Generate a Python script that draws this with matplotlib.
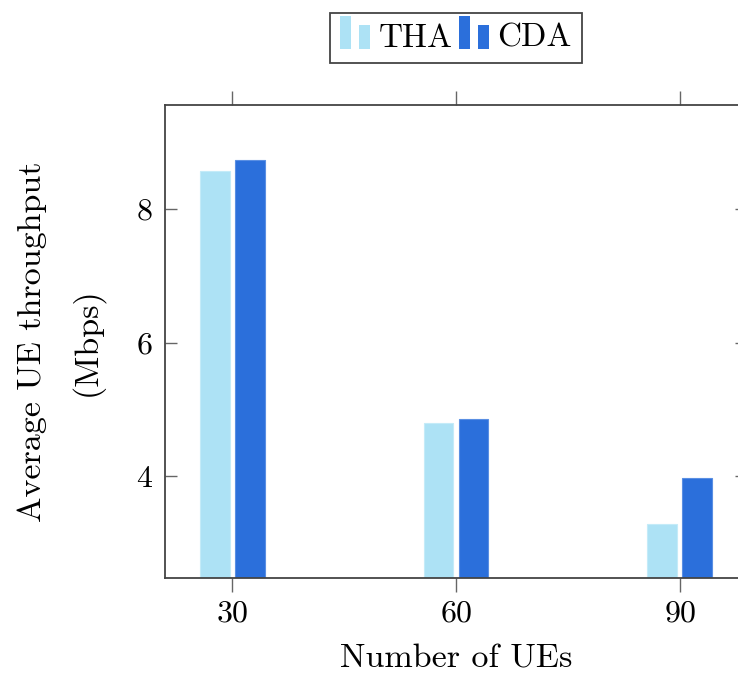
import numpy as np
import matplotlib
matplotlib.use("Agg")
import matplotlib.pyplot as plt
from matplotlib.patches import Rectangle
from matplotlib.legend_handler import HandlerBase

# data
ues = [30, 60, 90]
tha = [8.57, 4.79, 3.28]
cda = [8.73, 4.85, 3.97]
series_names = ["THA", "CDA"]
light = "#ade2f5"
dark = "#2b6fdb"

plt.rcParams['font.family'] = 'serif'
plt.rcParams['font.serif'] = ['cmr10']
plt.rcParams['mathtext.fontset'] = 'cm'
plt.rcParams['axes.formatter.use_mathtext'] = True


class TwoBarHandler(HandlerBase):
    # pgfplots-style ybar legend icon: tall bar + short bar
    def create_artists(self, legend, orig_handle, xdescent, ydescent,
                       width, height, fontsize, trans):
        c = orig_handle.get_facecolor()
        w = width * 0.33
        r1 = Rectangle((-xdescent, -ydescent - 2), w, height * 1.3 + 2,
                       facecolor=c, edgecolor='none', transform=trans)
        r2 = Rectangle((-xdescent + w * 1.75, -ydescent - 2), w, height * 0.95 + 2,
                       facecolor=c, edgecolor='none', transform=trans)
        return [r1, r2]


fig = plt.figure(figsize=(7.38, 6.77), dpi=100)
ax = fig.add_axes([165 / 738, 1 - 578 / 677, (747 - 165) / 738, (578 - 105) / 677])

x = np.array(ues, dtype=float)
bw = 4.0
off = 2.35
b1 = ax.bar(x - off, tha, width=bw, color=light, edgecolor="#c4ebf8", linewidth=0.8)
b2 = ax.bar(x + off, cda, width=bw, color=dark, edgecolor="#5a8fe3", linewidth=0.8)

ax.set_xlim(21, 99)
ax.set_ylim(2.47, 9.56)
ax.set_xticks(ues)
ax.set_yticks([4, 6, 8])

for s in ax.spines.values():
    s.set_color("#444444")
    s.set_linewidth(1.3)

ax.tick_params(axis='x', direction='out', length=10, width=1, color="#666666",
               top=True, labelsize=23, pad=6)
ax.tick_params(axis='y', direction='in', length=8.6, width=1, color="#666666",
               right=True, labelsize=23, pad=9)

ax.set_xlabel("Number of UEs", fontsize=24.5, labelpad=12)
ax.set_ylabel("Average UE throughput\n(Mbps)", fontsize=24.5, labelpad=23,
              linespacing=1.9)

leg = fig.legend([b1[0], b2[0]], series_names, loc='center',
                 bbox_to_anchor=(456 / 738, 1 - 38 / 677), ncol=2,
                 handler_map={b1[0]: TwoBarHandler(), b2[0]: TwoBarHandler()},
                 fontsize=24, frameon=True, fancybox=False, framealpha=1,
                 edgecolor="#444444", handlelength=1.0, handletextpad=0.15,
                 columnspacing=0.2, borderpad=0.3, borderaxespad=0)
leg.get_frame().set_linewidth(1.3)

fig.savefig("out.png", dpi=100)
